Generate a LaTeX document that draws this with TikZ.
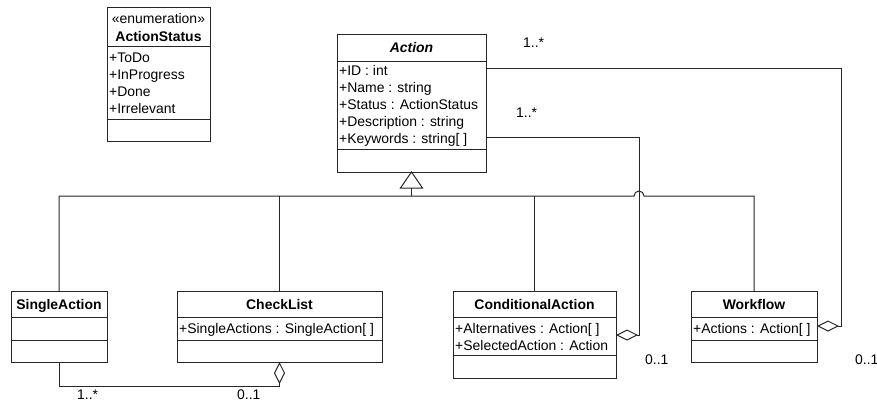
\documentclass[tikz,border=0pt]{standalone}
\usepackage{fontspec}
\setmainfont{Liberation Sans}
\usetikzlibrary{arrows.meta,calc}
\tikzset{
  ln/.style={line width=1bp, draw=black!85},
  cls/.style={ln, rectangle, inner sep=0pt, outer sep=0pt, anchor=north west},
  txt/.style={anchor=base west, inner sep=0pt, font=\fontsize{14}{17}\selectfont},
  hdr/.style={anchor=base, inner sep=0pt, font=\fontsize{14}{17}\selectfont\bfseries},
  mult/.style={anchor=base west, inner sep=0pt, font=\fontsize{14}{17}\selectfont},
  aggr/.style={ln, {Diamond[open, length=22bp, width=11bp, line width=1bp]}-},
}
\begin{document}
\begin{tikzpicture}[x=1bp, y=-1bp]
\useasboundingbox[fill=white] (0,0) rectangle (877,403);
% ActionStatus
\node[cls, minimum width=103bp, minimum height=134bp] (status) at (107,7) {};
\draw[ln] (status.west |- 0,46) -- (status.east |- 0,46);
\draw[ln] (status.west |- 0,119) -- (status.east |- 0,119);
\node[hdr, font=\fontsize{14}{17}\selectfont] (st1) at (158.5,23) {«enumeration»};
\node[hdr] (st2) at (158.5,41) {ActionStatus};
\node[txt] (st3) at (109,62) {+ToDo};
\node[txt] (st4) at (109,79) {+InProgress};
\node[txt] (st5) at (109,96) {+Done};
\node[txt] (st6) at (109,113) {+Irrelevant};
% Action
\node[cls, minimum width=149bp, minimum height=138bp] (action) at (337,34) {};
\draw[ln] (action.west |- 0,61) -- (action.east |- 0,61);
\draw[ln] (action.west |- 0,149) -- (action.east |- 0,149);
\node[hdr, font=\fontsize{14}{17}\selectfont\bfseries\itshape] (a0) at (411.5,52) {Action};
\node[txt] (a1) at (339,75) {+ID : int};
\node[txt] (a2) at (339,92.1) {+Name : string};
\node[txt] (a3) at (339,109.2) {+Status : ActionStatus};
\node[txt] (a4) at (339,126.3) {+Description : string};
\node[txt] (a5) at (339,143.4) {+Keywords : string[ ]};
% SingleAction
\node[cls, minimum width=96bp, minimum height=71bp] (single) at (11,291) {};
\draw[ln] (single.west |- 0,317) -- (single.east |- 0,317);
\draw[ln] (single.west |- 0,340) -- (single.east |- 0,340);
\node[hdr] (s0) at (59,309) {SingleAction};
% CheckList
\node[cls, minimum width=205bp, minimum height=71bp] (check) at (177,291) {};
\draw[ln] (check.west |- 0,317) -- (check.east |- 0,317);
\draw[ln] (check.west |- 0,340) -- (check.east |- 0,340);
\node[hdr] (c0) at (279.5,309) {CheckList};
\node[txt] (c1) at (179,333) {+SingleActions : SingleAction[ ]};
% ConditionalAction
\node[cls, minimum width=163bp, minimum height=87bp] (cond) at (453,291) {};
\draw[ln] (cond.west |- 0,317) -- (cond.east |- 0,317);
\draw[ln] (cond.west |- 0,355) -- (cond.east |- 0,355);
\node[hdr] (d0) at (534.5,309) {ConditionalAction};
\node[txt] (d1) at (455,333) {+Alternatives : Action[ ]};
\node[txt] (d2) at (455,350) {+SelectedAction : Action};
% Workflow
\node[cls, minimum width=126bp, minimum height=71bp] (work) at (691,291) {};
\draw[ln] (work.west |- 0,317) -- (work.east |- 0,317);
\draw[ln] (work.west |- 0,340) -- (work.east |- 0,340);
\node[hdr] (w0) at (754,309) {Workflow};
\node[txt] (w1) at (693,333) {+Actions : Action[ ]};
% Generalization
\coordinate (bus) at (0,196);
\coordinate (trib) at ($(action.south)+(0,16)$);
\draw[ln, line join=miter] (action.south) -- ++(-11,16) -- ++(22,0) -- cycle;
\draw[ln] (trib) -- (trib |- bus);
\draw[ln] (single.north) |- (634,196) arc[start angle=180, end angle=0, radius=5bp] -- (work.north |- bus) -- (work.north);
\draw[ln] (check.north) -- (check.north |- bus);
\draw[ln] (cond.north) -- (cond.north |- bus);
% Aggregations
\draw[aggr] (check.south) -- ++(0,24) -| (single.south);
\draw[aggr] (cond.east |- 0,335) -- (639,335) |- (action.east |- 0,137);
\draw[aggr] (work.east |- 0,326) -- (841,326) |- (action.east |- 0,68);
% Multiplicities
\node[mult] (m1) at (523,47) {1..*};
\node[mult] (m2) at (516,117) {1..*};
\node[mult] (m3) at (77,399) {1..*};
\node[mult] (m4) at (237,399) {0..1};
\node[mult] (m5) at (645,364) {0..1};
\node[mult] (m6) at (855,364) {0..1};
\end{tikzpicture}
\end{document}
